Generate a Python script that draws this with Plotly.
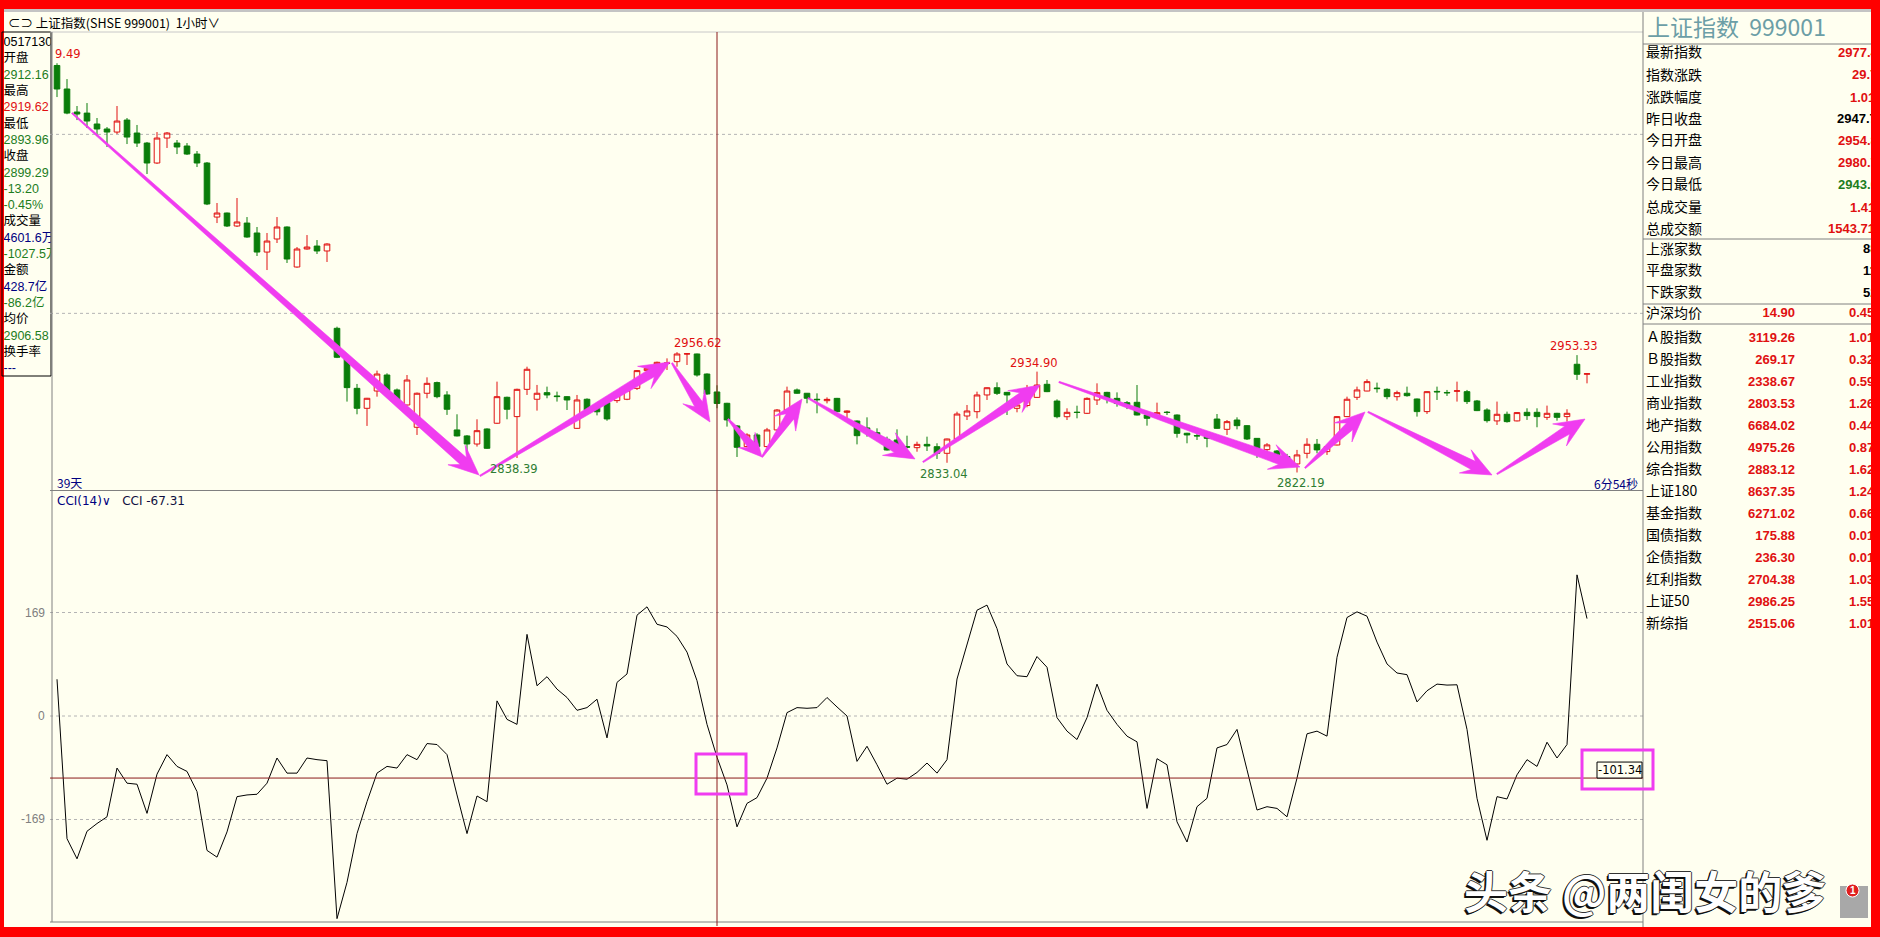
import math
import plotly.graph_objects as go

# ---------------- data ----------------
opens = [3277.0, 3250.7, 3225.0, 3223.8, 3211.6, 3206.0, 3202.6, 3216.0, 3201.5, 3190.3,
         3168.0, 3195.9, 3190.3, 3187.0, 3178.0, 3168.0, 3107.6, 3112.1, 3097.6, 3100.9,
         3089.8, 3068.5, 3083.1, 3096.5, 3051.8, 3071.9, 3075.2, 3069.7,
         2983.3, 2951.6, 2916.2, 2893.9, 2913.2, 2931.1, 2914.4, 2897.6, 2872.7, 2910.7,
         2922.6, 2908.8, 2869.7, 2863.0, 2854.0, 2870.8, 2877.2, 2906.2, 2884.6, 2915.1,
         2904.0, 2911.4, 2907.7, 2906.9, 2871.5, 2904.0, 2895.0, 2900.2, 2902.5, 2904.0,
         2916.2, 2936.0, 2940.4, 2944.2, 2946.0, 2954.6, 2954.6, 2932.2, 2912.16, 2899.5,
         2874.2, 2851.1, 2864.1, 2851.1, 2869.7, 2892.0, 2914.4, 2910.7, 2904.0, 2902.4,
         2905.0, 2889.4, 2879.7, 2872.0, 2866.7, 2859.2, 2858.5, 2851.0, 2849.9, 2853.6,
         2851.0, 2843.6, 2859.6, 2885.3, 2890.1, 2908.8, 2916.9, 2911.7, 2893.9, 2897.0,
         2906.1, 2920.7, 2902.0, 2884.5, 2889.6, 2888.3, 2903.2, 2911.7, 2905.0, 2900.2,
         2900.6, 2886.4, 2884.5, 2889.6, 2886.4, 2866.0, 2863.5, 2862.2, 2881.9, 2870.4,
         2880.8, 2874.5, 2860.3, 2847.7, 2846.2, 2840.0, 2831.7, 2843.6, 2853.7, 2845.5,
         2852.9, 2884.6, 2906.2, 2913.2, 2916.5, 2915.1, 2906.9, 2910.7, 2904.3, 2890.2,
         2912.8, 2911.6, 2913.0, 2912.5, 2902.1, 2892.0, 2879.8, 2887.2, 2879.8, 2889.4,
         2889.4, 2883.8, 2888.3, 2884.6, 2943.1, 2932.0]
highs = [3279.49, 3261.8, 3231.7, 3235.0, 3218.3, 3208.2, 3231.7, 3218.3, 3210.5, 3191.5,
         3202.6, 3202.6, 3193.7, 3190.3, 3181.4, 3169.1, 3123.3, 3112.6, 3128.9, 3107.6,
         3096.5, 3089.8, 3107.6, 3097.2, 3074.1, 3087.5, 3081.9, 3078.3,
         2985.1, 2952.4, 2921.1, 2905.5, 2936.0, 2933.0, 2916.0, 2931.1, 2911.5, 2928.5,
         2923.7, 2913.0, 2887.2, 2864.0, 2881.6, 2871.5, 2923.7, 2906.9, 2915.8, 2940.4,
         2920.0, 2918.1, 2912.5, 2907.5, 2908.8, 2905.0, 2898.0, 2901.0, 2910.0, 2916.0,
         2936.7, 2940.0, 2946.0, 2949.7, 2956.62, 2955.0, 2955.0, 2932.9, 2919.62, 2900.0,
         2875.0, 2866.0, 2866.0, 2872.0, 2893.0, 2918.1, 2916.0, 2911.0, 2910.6, 2906.1,
         2905.5, 2891.5, 2880.3, 2883.8, 2871.5, 2862.2, 2870.4, 2863.3, 2856.6, 2862.2,
         2854.8, 2860.0, 2890.1, 2897.6, 2912.5, 2917.2, 2922.9, 2912.2, 2898.0, 2920.0,
         2934.90, 2925.5, 2903.9, 2893.9, 2896.8, 2906.1, 2921.8, 2912.3, 2911.7, 2902.0,
         2919.9, 2887.0, 2900.2, 2890.9, 2887.0, 2866.5, 2866.0, 2862.5, 2887.5, 2880.8,
         2883.8, 2875.0, 2860.5, 2855.0, 2847.3, 2843.0, 2847.4, 2860.4, 2859.6, 2853.0,
         2884.9, 2906.9, 2918.1, 2926.3, 2922.6, 2916.2, 2913.6, 2918.1, 2904.8, 2912.9,
         2918.1, 2914.4, 2923.7, 2914.4, 2903.2, 2893.9, 2901.4, 2890.2, 2889.5, 2893.9,
         2893.9, 2896.9, 2888.8, 2892.8, 2953.33, 2932.8]
lows = [3241.7, 3222.5, 3216.0, 3207.1, 3198.1, 3185.9, 3200.4, 3189.2, 3185.9, 3155.7,
        3167.0, 3184.8, 3178.0, 3177.0, 3163.5, 3121.0, 3100.9, 3096.5, 3096.5, 3084.5,
        3064.1, 3048.4, 3078.6, 3056.3, 3051.0, 3071.2, 3066.3, 3057.4,
        2950.0, 2901.4, 2887.2, 2874.2, 2906.9, 2910.0, 2898.0, 2897.0, 2864.1, 2905.1,
        2905.1, 2886.5, 2862.5, 2843.6, 2851.1, 2848.5, 2876.5, 2881.6, 2838.39, 2908.8,
        2891.3, 2905.1, 2901.4, 2892.0, 2871.0, 2890.0, 2886.0, 2880.0, 2900.0, 2903.0,
        2914.4, 2935.0, 2940.0, 2936.7, 2940.4, 2942.3, 2929.3, 2909.0, 2893.96, 2873.4,
        2839.5, 2850.0, 2850.0, 2850.0, 2868.0, 2891.0, 2910.0, 2899.5, 2888.3, 2899.4,
        2889.5, 2882.7, 2853.6, 2862.2, 2860.3, 2846.8, 2845.4, 2849.0, 2845.4, 2846.2,
        2837.3, 2833.04, 2859.0, 2880.8, 2882.7, 2903.2, 2908.8, 2886.4, 2889.4, 2895.0,
        2905.5, 2912.0, 2882.7, 2880.8, 2882.7, 2887.5, 2897.6, 2899.4, 2895.7, 2893.0,
        2886.0, 2874.5, 2882.7, 2886.4, 2861.1, 2854.8, 2858.5, 2850.3, 2871.0, 2864.1,
        2870.4, 2858.5, 2838.5, 2845.0, 2838.5, 2830.0, 2822.19, 2838.0, 2843.6, 2841.8,
        2852.5, 2884.0, 2903.2, 2913.0, 2911.4, 2904.0, 2902.5, 2906.9, 2884.6, 2887.6,
        2903.2, 2907.7, 2901.4, 2898.7, 2890.8, 2877.9, 2875.3, 2877.9, 2879.3, 2880.9,
        2872.7, 2880.9, 2880.1, 2879.0, 2925.6, 2921.8]
closes = [3250.7, 3223.8, 3222.7, 3214.9, 3206.0, 3202.6, 3214.9, 3197.0, 3190.3, 3168.0,
          3195.9, 3201.5, 3185.9, 3178.0, 3168.0, 3122.2, 3112.1, 3097.6, 3102.1, 3085.3,
          3068.5, 3080.8, 3096.5, 3060.7, 3071.9, 3074.1, 3069.7, 3077.5,
          2950.9, 2917.0, 2893.9, 2905.1, 2932.2, 2913.6, 2901.4, 2925.5, 2910.7, 2921.8,
          2906.9, 2892.8, 2863.0, 2854.0, 2868.9, 2849.2, 2906.9, 2892.8, 2915.1, 2937.5,
          2910.7, 2908.8, 2907.0, 2903.2, 2903.2, 2892.0, 2890.0, 2882.0, 2908.8, 2914.4,
          2936.0, 2938.6, 2945.3, 2944.5, 2954.6, 2954.8, 2931.1, 2909.9, 2899.29, 2880.9,
          2850.3, 2864.1, 2851.1, 2869.7, 2892.0, 2913.2, 2910.7, 2905.1, 2903.5, 2903.9,
          2890.1, 2890.8, 2863.3, 2870.0, 2862.2, 2847.3, 2850.3, 2850.5, 2853.6, 2851.8,
          2843.6, 2859.6, 2887.5, 2890.9, 2908.8, 2916.9, 2910.6, 2908.8, 2897.6, 2915.0,
          2919.9, 2912.5, 2884.5, 2889.4, 2889.2, 2905.0, 2911.4, 2905.0, 2899.4, 2896.0,
          2886.4, 2882.7, 2889.0, 2889.2, 2865.9, 2864.1, 2863.0, 2860.3, 2871.5, 2879.0,
          2874.5, 2859.6, 2849.2, 2853.0, 2840.5, 2838.0, 2841.8, 2853.7, 2847.4, 2851.0,
          2884.6, 2904.0, 2914.4, 2923.7, 2915.9, 2906.9, 2911.4, 2908.0, 2890.2, 2912.5,
          2912.3, 2911.2, 2913.4, 2901.4, 2891.3, 2880.1, 2887.2, 2879.0, 2889.1, 2885.7,
          2884.6, 2888.3, 2883.8, 2888.3, 2931.9, 2932.5]
cci = [60.0, -200.3, -233.2, -188.2, -175.6, -164.6, -85.0, -109.7, -111.4, -159.0,
       -95.0, -63.1, -82.3, -90.5, -123.5, -219.5, -230.5, -189.3, -131.7, -128.9,
       -127.8, -109.7, -68.6, -93.3, -93.3, -68.6, -71.3, -73.0, -330.9, -271.6,
       -192.0, -139.9, -93.3, -82.3, -85.0, -63.1, -71.3, -45.0, -46.6, -63.1,
       -128.9, -192.0, -130.6, -139.9, 24.7, -5.5, -13.7, 133.3, 49.4, 64.2,
       43.9, 30.2, 9.3, 13.7, 27.4, -35.7, 54.9, 68.6, 164.6, 178.3,
       149.8, 145.4, 130.0, 104.3, 57.6, -13.7, -67.31, -112.5, -181.0, -142.7,
       -133.3, -101.5, -52.1, 5.5, 13.7, 12.6, 13.7, 30.2, 14.8, 0.0,
       -74.1, -49.4, -79.6, -111.4, -101.5, -103.2, -92.2, -76.8, -93.3, -71.3,
       60.4, 118.0, 172.8, 181.1, 142.7, 85.0, 65.8, 64.2, 97.1, 79.6,
       -2.7, -24.7, -38.4, -2.7, 52.1, 9.3, -13.7, -32.9, -42.2, -150.9,
       -69.7, -79.6, -172.8, -205.8, -148.1, -134.4, -52.1, -46.6, -21.9, -87.8,
       -153.6, -148.1, -150.9, -164.6, -101.5, -29.1, -24.7, -32.9, 96.0, 160.8,
       170.1, 163.0, 120.7, 85.0, 70.2, 67.5, 23.0, 41.2, 52.1, 50.5,
       51.0, -21.9, -134.4, -203.0, -131.7, -135.5, -96.0, -71.3, -82.3, -42.8,
       -68.6, -46.6, 230.5, 159.1]
bar_index = list(range(len(opens)))

# extreme-value labels
ext_index = [0, 46, 62, 89, 98, 124, 152]
ext_value = [3279.49, 2838.39, 2956.62, 2833.04, 2934.90, 2822.19, 2953.33]
ext_text = ["9.49", "2838.39", "2956.62", "2833.04", "2934.90", "2822.19", "2953.33"]
ext_is_high = [True, False, True, False, True, False, True]

# hand-drawn trend arrows: (bar index, price) start -> end
arrow_start_i = [1.5, 42.3, 61.5, 67.1, 70.5, 75.1, 86.6, 100.2, 124.8, 131.1, 144.0]
arrow_start_p = [3223.8, 2818.3, 2944.5, 2881.9, 2839.5, 2905.4, 2833.9, 2923.3, 2827.2, 2889.8, 2820.5]
arrow_end_i = [42.2, 61.3, 65.3, 70.5, 74.5, 85.8, 98.3, 124.3, 130.8, 143.5, 152.8]
arrow_end_p = [2819.4, 2945.6, 2878.6, 2839.5, 2904.3, 2837.3, 2919.9, 2828.3, 2889.8, 2819.4, 2881.9]

cursor_index = 66
cursor_cci = -101.34
cci_levels = [169, 0, -169]
price_grid = [3200, 3000]

left_panel = ["05171300", "开盘", "2912.16", "最高", "2919.62", "最低", "2893.96", "收盘",
              "2899.29", "-13.20", "-0.45%", "成交量", "4601.6万", "-1027.5万", "金额",
              "428.7亿", "-86.2亿", "均价", "2906.58", "换手率", "---"]
left_panel_kind = ["k", "k", "g", "k", "r", "k", "g", "k", "g", "g", "g", "k", "b", "g", "k",
                   "b", "g", "k", "g", "k", "b"]

rp_labels = ["最新指数", "指数涨跌", "涨跌幅度", "昨日收盘", "今日开盘", "今日最高", "今日最低",
             "总成交量", "总成交额", "上涨家数", "平盘家数", "下跌家数", "沪深均价",
             "Ａ股指数", "Ｂ股指数", "工业指数", "商业指数", "地产指数", "公用指数", "综合指数",
             "上证180", "基金指数", "国债指数", "企债指数", "红利指数", "上证50", "新综指"]
rp_mid = [""] * 12 + ["14.90", "3119.26", "269.17", "2338.67", "2803.53", "6684.02", "4975.26",
                      "2883.12", "8637.35", "6271.02", "175.88", "236.30", "2704.38", "2986.25",
                      "2515.06"]
rp_right = ["2977.4", "29.7", "1.01", "2947.7", "2954.8", "2980.7", "2943.0", "1.41",
            "1543.71", "88", "11", "52", "0.45", "1.01", "0.32", "0.59", "1.26", "0.44",
            "0.87", "1.62", "1.24", "0.66", "0.01", "0.01", "1.03", "1.55", "1.01"]
rp_right_kind = ["r", "r", "r", "k", "r", "r", "g", "r", "r", "k", "k", "k"] + ["r"] * 15

# ---------------- style / geometry ----------------
W, H = 1880, 937
CREAM = "#fffff0"
BORDER_RED = "#ff0000"
RED = "#e01010"
GREEN = "#0a7d0a"
NAVY = "#000080"
MAGENTA = "#f03cf0"
CROSS = "#8b1a1a"
GRID = "#b4b4b4"
AXIS = "#808080"
KIND_COLOR = {"k": "#000000", "r": RED, "g": "#1d7d1d", "b": NAVY}

PLOT_X0, PLOT_X1 = 50, 1643
PRICE_Y0, PRICE_Y1 = 32, 490
CCI_Y0, CCI_Y1 = 492, 922
X_RANGE = [-0.7, 158.6]
PRICE_RANGE = [2802.6, 3314.4]
CCI_RANGE = [-336.4, 365.8]


def fx(px):
    return px / W


def fy(py):
    return 1 - py / H


def idx_px(i):
    return PLOT_X0 + (i - X_RANGE[0]) / (X_RANGE[1] - X_RANGE[0]) * (PLOT_X1 - PLOT_X0)


def price_py(p):
    return PRICE_Y1 - (p - PRICE_RANGE[0]) / (PRICE_RANGE[1] - PRICE_RANGE[0]) * (PRICE_Y1 - PRICE_Y0)


def cci_py(v):
    return CCI_Y1 - (v - CCI_RANGE[0]) / (CCI_RANGE[1] - CCI_RANGE[0]) * (CCI_Y1 - CCI_Y0)


def to_data(X, Y):
    i = X_RANGE[0] + (X - PLOT_X0) / (PLOT_X1 - PLOT_X0) * (X_RANGE[1] - X_RANGE[0])
    p = PRICE_RANGE[0] + (PRICE_Y1 - Y) / (PRICE_Y1 - PRICE_Y0) * (PRICE_RANGE[1] - PRICE_RANGE[0])
    return i, p


def arrow_polygon(i0, p0, i1, p1):
    x0, y0 = idx_px(i0), price_py(p0)
    x1, y1 = idx_px(i1), price_py(p1)
    dx, dy = x1 - x0, y1 - y0
    L = math.hypot(dx, dy)
    ux, uy = dx / L, dy / L
    nx, ny = -uy, ux
    h = min(30.0, 0.45 * L)
    hw = min(13.0, 0.22 * L)
    w1 = min(4.6, 0.08 * L)
    w0 = 0.7
    bx, by = x1 - ux * h, y1 - uy * h
    sx, sy = x1 - ux * h * 0.7, y1 - uy * h * 0.7
    pts = [(x0 + nx * w0, y0 + ny * w0), (sx + nx * w1, sy + ny * w1),
           (bx + nx * hw, by + ny * hw), (x1, y1), (bx - nx * hw, by - ny * hw),
           (sx - nx * w1, sy - ny * w1), (x0 - nx * w0, y0 - ny * w0),
           (x0 + nx * w0, y0 + ny * w0)]
    data = [to_data(X, Y) for X, Y in pts]
    return [d[0] for d in data], [d[1] for d in data]


fig = go.Figure()

# candles
fig.add_trace(go.Candlestick(
    x=bar_index, open=opens, high=highs, low=lows, close=closes,
    increasing=dict(line=dict(color=RED, width=1), fillcolor=CREAM),
    decreasing=dict(line=dict(color=GREEN, width=1), fillcolor=GREEN),
    whiskerwidth=0, hoverinfo="skip", showlegend=False, xaxis="x", yaxis="y"))

# arrows
for k in range(len(arrow_start_i)):
    ax_, ay_ = arrow_polygon(arrow_start_i[k], arrow_start_p[k], arrow_end_i[k], arrow_end_p[k])
    fig.add_trace(go.Scatter(x=ax_, y=ay_, mode="lines", fill="toself", fillcolor=MAGENTA,
                             line=dict(color=MAGENTA, width=0.6), hoverinfo="skip",
                             showlegend=False, xaxis="x", yaxis="y"))

# CCI line
fig.add_trace(go.Scatter(x=bar_index, y=cci, mode="lines", line=dict(color="#000000", width=1),
                         hoverinfo="skip", showlegend=False, xaxis="x2", yaxis="y2"))

# left info panel (clipped text)
lp_y = [43 + 16.3 * k for k in range(len(left_panel))]
fig.add_trace(go.Scatter(
    x=[3.5] * len(left_panel), y=lp_y, text=left_panel, mode="text", textposition="middle right",
    textfont=dict(family="Liberation Sans, Noto Sans CJK SC", size=12.5,
                  color=[KIND_COLOR[c] for c in left_panel_kind]),
    hoverinfo="skip", showlegend=False, xaxis="x4", yaxis="y4", cliponaxis=True))

# right panel
rp_y = [53.3, 76, 98.3, 120, 141.7, 164, 185.7, 208.3, 230, 250, 271.7, 293.3, 314] + \
       [338.3 + 22.0 * k for k in range(14)]
rp_right_x = [1838, 1852, 1850, 1837, 1838, 1838, 1838, 1850, 1828, 1863, 1863, 1863, 1849] + [1849] * 14
fig.add_trace(go.Scatter(
    x=[1646] * len(rp_labels), y=rp_y, text=rp_labels, mode="text", textposition="middle right",
    textfont=dict(family="Noto Sans CJK SC", size=14, color="#000000"),
    hoverinfo="skip", showlegend=False, xaxis="x3", yaxis="y3", cliponaxis=True))
fig.add_trace(go.Scatter(
    x=[1795] * len(rp_mid), y=rp_y, text=rp_mid, mode="text", textposition="middle left",
    textfont=dict(family="Liberation Sans", size=13, color=RED, weight="bold"),
    hoverinfo="skip", showlegend=False, xaxis="x3", yaxis="y3", cliponaxis=True))
fig.add_trace(go.Scatter(
    x=rp_right_x, y=rp_y, text=rp_right, mode="text", textposition="middle right",
    textfont=dict(family="Liberation Sans", size=13,
                  color=[KIND_COLOR[c] for c in rp_right_kind], weight="bold"),
    hoverinfo="skip", showlegend=False, xaxis="x3", yaxis="y3", cliponaxis=True))
fig.add_trace(go.Scatter(
    x=[1647], y=[30], text=["上证指数  999001"], mode="text", textposition="middle right",
    textfont=dict(family="Noto Sans CJK SC", size=23, color="#6c9ea6"),
    hoverinfo="skip", showlegend=False, xaxis="x3", yaxis="y3", cliponaxis=True))

# ---------------- shapes ----------------
shapes = []


def rect(x0, y0, x1, y1, fill=None, line=None, width=1, layer="above"):
    d = dict(type="rect", xref="paper", yref="paper", x0=fx(x0), x1=fx(x1), y0=fy(y1), y1=fy(y0),
             layer=layer, line=dict(width=width if line else 0, color=line or "rgba(0,0,0,0)"))
    if fill:
        d["fillcolor"] = fill
    return d


def pline(x0, y0, x1, y1, color, width=1, dash=None, layer="above"):
    ln = dict(color=color, width=width)
    if dash:
        ln["dash"] = dash
    return dict(type="line", xref="paper", yref="paper", x0=fx(x0), x1=fx(x1), y0=fy(y0),
                y1=fy(y1), line=ln, layer=layer)


shapes.append(rect(4, 9, 1871, 927, fill=CREAM, layer="below"))
shapes.append(rect(4, 9, 1871, 12, fill="#c4c4c4", layer="below"))
# left info box
shapes.append(rect(2, 32, 51, 376, line="#000000", width=1, layer="below"))
# chart frame
shapes.append(pline(50, 32, 1643, 32, "#c8c8c8", layer="below"))
shapes.append(pline(52, 32, 52, 922, AXIS))
shapes.append(pline(50, 490.5, 1643, 490.5, AXIS))
shapes.append(pline(50, 922, 1643, 922, AXIS))
shapes.append(pline(1643, 12, 1643, 927, AXIS))
# right panel separators
for yy in [44, 239, 304, 324]:
    shapes.append(pline(1643, yy, 1871, yy, AXIS))
# price grid
for g in price_grid:
    shapes.append(pline(PLOT_X0, price_py(g), PLOT_X1, price_py(g), GRID, dash="3px,3px", layer="below"))
# CCI grid
for g in cci_levels:
    shapes.append(pline(PLOT_X0, cci_py(g), PLOT_X1, cci_py(g), GRID, dash="3px,3px", layer="below"))
# crosshair
cx = idx_px(cursor_index)
shapes.append(pline(cx, 32, cx, 926, CROSS))
shapes.append(pline(PLOT_X0, cci_py(cursor_cci), PLOT_X1, cci_py(cursor_cci), CROSS))
# value tag on the right
tag_y = cci_py(cursor_cci)
shapes.append(rect(1597, tag_y - 16, 1642, tag_y, fill=CREAM, line="#000000", width=1))
# magenta highlight boxes
shapes.append(rect(cx - 21, tag_y - 24, cx + 29, tag_y + 16, line=MAGENTA, width=3))
shapes.append(rect(1582, tag_y - 28, 1653, tag_y + 11, line=MAGENTA, width=3))
# little icon bottom right
shapes.append(dict(type="rect", xref="paper", yref="paper", x0=fx(1840), x1=fx(1868),
                   y0=fy(918), y1=fy(886), fillcolor="#a8a8a8", line=dict(width=0)))
shapes.append(dict(type="circle", xref="paper", yref="paper", x0=fx(1846), x1=fx(1859),
                   y0=fy(897), y1=fy(884), fillcolor="#e02020", line=dict(color="white", width=1)))

# ---------------- annotations ----------------
ann = []


def ptext(x, y, text, color="#000000", size=12, family="Noto Sans CJK SC", xanchor="left",
          yanchor="middle", weight=None, xshift=0, yshift=0, shadow=None):
    f = dict(color=color, size=size, family=family)
    if weight:
        f["weight"] = weight
    if shadow:
        f["shadow"] = shadow
    return dict(x=fx(x), y=fy(y), xref="paper", yref="paper", text=text, showarrow=False,
                xanchor=xanchor, yanchor=yanchor, font=f, xshift=xshift, yshift=yshift)


ann.append(ptext(6, 22, "⊂⊃ 上证指数(SHSE 999001)  1小时∨", size=12.5))
ann.append(ptext(55, 482, "39天", color=NAVY, size=12))
ann.append(ptext(1640, 483, "6分54秒", color=NAVY, size=12, xanchor="right"))
ann.append(ptext(55, 501, "<span style='color:#000080'>CCI(14)∨</span>   CCI -67.31",
                 color="#101040", size=12, family="DejaVu Sans, Noto Sans CJK SC"))
for g in cci_levels:
    ann.append(ptext(47, cci_py(g), str(g), color=AXIS, size=12, family="Liberation Sans",
                     xanchor="right"))
ann.append(ptext(1619.5, tag_y - 8, "%.2f" % cursor_cci, color="#000000", size=11.5,
                 xanchor="center", family="DejaVu Sans"))

ext_xshift = [-4, -3, -5, -3, -3, 4, -3]
for k in range(len(ext_index)):
    hi = ext_is_high[k]
    ann.append(dict(x=ext_index[k], y=ext_value[k], xref="x", yref="y", text=ext_text[k],
                    showarrow=False, xanchor="left" if k in (0, 2) else "center",
                    yanchor="bottom" if hi else "top", yshift=0 if hi else -2,
                    xshift=ext_xshift[k],
                    font=dict(color=RED if hi else "#2e7d32", size=11.5, family="DejaVu Sans")))

# watermark: white face with a thin dark outline and a lower-left drop shadow
wm_shadow = ("-2px 2px 0px #111111, -1px 1px 0px #111111, 1px 0px 0px #333333, "
             "-1px 0px 0px #333333, 0px 1px 0px #333333, 0px -1px 0px #333333")
ann.append(ptext(1645, 890, "头条 @两闺女的爹", color="#ffffff", size=44, xanchor="center",
                 weight="bold", shadow=wm_shadow))
ann.append(ptext(1852.5, 890.5, "1", color="#ffffff", size=10, xanchor="center",
                 family="Liberation Sans", weight="bold"))

hidden = dict(visible=False, fixedrange=True, showgrid=False, zeroline=False)
fig.update_layout(
    width=W, height=H, margin=dict(l=0, r=0, t=0, b=0, pad=0),
    paper_bgcolor=BORDER_RED, plot_bgcolor="rgba(0,0,0,0)",
    showlegend=False, boxgap=0.2, hovermode=False,
    font=dict(family="Noto Sans CJK SC"),
    xaxis=dict(domain=[fx(PLOT_X0), fx(PLOT_X1)], range=X_RANGE, anchor="y",
               rangeslider=dict(visible=False), **hidden),
    yaxis=dict(domain=[fy(PRICE_Y1), fy(PRICE_Y0)], range=PRICE_RANGE, anchor="x", **hidden),
    xaxis2=dict(domain=[fx(PLOT_X0), fx(PLOT_X1)], range=X_RANGE, anchor="y2", **hidden),
    yaxis2=dict(domain=[fy(CCI_Y1), fy(CCI_Y0)], range=CCI_RANGE, anchor="x2", **hidden),
    xaxis3=dict(domain=[fx(1644), fx(1871)], range=[1644, 1871], anchor="y3", **hidden),
    yaxis3=dict(domain=[fy(927), fy(12)], range=[927, 12], anchor="x3", **hidden),
    xaxis4=dict(domain=[fx(4), fx(50.5)], range=[4, 50.5], anchor="y4", **hidden),
    yaxis4=dict(domain=[fy(376), fy(33)], range=[376, 33], anchor="x4", **hidden),
    shapes=shapes, annotations=ann,
)

fig.write_html("out.html", config={"displayModeBar": False},
               post_script="document.body.style.margin='0px';document.body.style.overflow='hidden';")
